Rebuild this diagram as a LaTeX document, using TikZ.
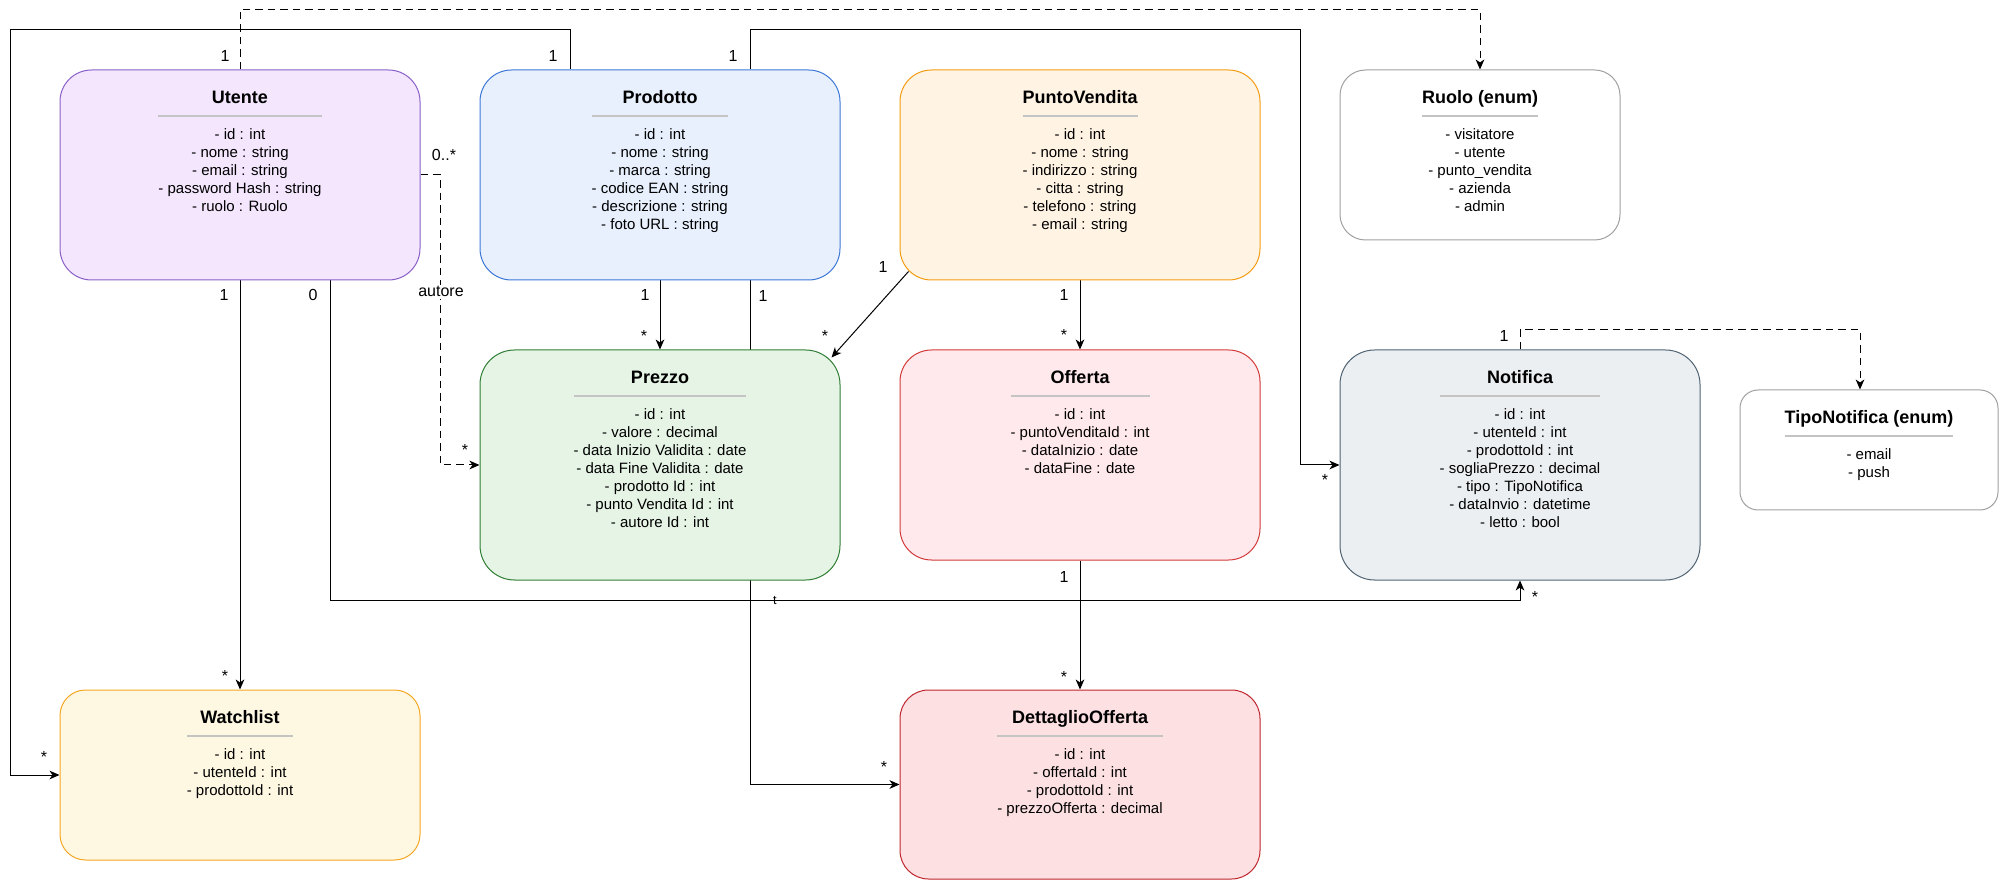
\documentclass[tikz,border=0pt]{standalone}
\usepackage{fontspec}
\setmainfont{Liberation Sans}
\usetikzlibrary{arrows.meta,calc}
\newdimen\pxu \pxu=0.75pt
\definecolor{sepgray}{HTML}{C4C4C4}
\definecolor{uFill}{HTML}{F3E6FD}\definecolor{uDraw}{HTML}{8A5FC8}
\definecolor{pFill}{HTML}{E8F0FD}\definecolor{pDraw}{HTML}{3C78D8}
\definecolor{vFill}{HTML}{FFF3E3}\definecolor{vDraw}{HTML}{F39C12}
\definecolor{eDraw}{HTML}{A0A0A0}
\definecolor{zFill}{HTML}{E6F4E6}\definecolor{zDraw}{HTML}{2E7D32}
\definecolor{oFill}{HTML}{FFE9EC}\definecolor{oDraw}{HTML}{D33A3A}
\definecolor{nFill}{HTML}{ECEFF2}\definecolor{nDraw}{HTML}{4F6272}
\definecolor{wFill}{HTML}{FEF7E1}\definecolor{wDraw}{HTML}{F5A623}
\definecolor{dFill}{HTML}{FCE0E2}\definecolor{dDraw}{HTML}{C0262D}
\newcommand\umlrow[1]{\vrule height13.5\pxu depth4.5\pxu width0pt #1\cr}
\newcommand\umlbody[2]{\vbox{\offinterlineskip\halign{\hfil##\hfil\cr
  \fontsize{13.5pt}{16pt}\selectfont\bfseries\vrule height20\pxu depth6\pxu width0pt #1\cr
  \vrule height8\pxu depth0pt width0pt{\color{sepgray}\leaders\hrule height1.9\pxu depth-0.2\pxu\hfill}\cr
  \noalign{\kern9\pxu}
  #2}}}
\pgfdeclarelayer{bg}
\pgfsetlayers{bg,main}
\tikzset{
  umlbox/.style={draw, line width=0.75pt, inner sep=0pt},
  boxtext/.style={anchor=north, inner sep=0pt, font=\fontsize{11.25pt}{13.5pt}\selectfont, text=black},
  lab/.style={anchor=base, inner sep=0pt, font=\fontsize{12pt}{14pt}\selectfont, text=black},
  conn/.style={draw=black, line width=0.75pt, -{Stealth[length=7.5pt,width=6.5pt,inset=2.2pt]}},
  dconn/.style={conn, dash pattern=on 5.6pt off 3.8pt}
}
\begin{document}
\begin{tikzpicture}[x=0.75pt,y=-0.75pt]
\useasboundingbox (0,0) rectangle (2000,880);
% boxes
\node[umlbox, fill=uFill, draw=uDraw, minimum width=360\pxu, minimum height=210\pxu, rounded corners=31.5\pxu] (utente) at (240,175) {};
\node[umlbox, fill=pFill, draw=pDraw, minimum width=360\pxu, minimum height=210\pxu, rounded corners=31.5\pxu] (prodotto) at (660,175) {};
\node[umlbox, fill=vFill, draw=vDraw, minimum width=360\pxu, minimum height=210\pxu, rounded corners=31.5\pxu] (pv) at (1080,175) {};
\node[umlbox, fill=white, draw=eDraw, minimum width=280\pxu, minimum height=170\pxu, rounded corners=25.5\pxu] (ruolo) at (1480,155) {};
\node[umlbox, fill=zFill, draw=zDraw, minimum width=360\pxu, minimum height=230\pxu, rounded corners=34.5\pxu] (prezzo) at (660,465) {};
\node[umlbox, fill=oFill, draw=oDraw, minimum width=360\pxu, minimum height=210\pxu, rounded corners=31.5\pxu] (offerta) at (1080,455) {};
\node[umlbox, fill=nFill, draw=nDraw, minimum width=360\pxu, minimum height=230\pxu, rounded corners=34.5\pxu] (notifica) at (1520,465) {};
\node[umlbox, fill=white, draw=eDraw, minimum width=258\pxu, minimum height=120\pxu, rounded corners=18\pxu] (tiponot) at (1869,450) {};
\node[umlbox, fill=wFill, draw=wDraw, minimum width=360\pxu, minimum height=170\pxu, rounded corners=25.5\pxu] (watchlist) at (240,775) {};
\node[umlbox, fill=dFill, draw=dDraw, minimum width=360\pxu, minimum height=189\pxu, rounded corners=28.5\pxu] (dettaglio) at (1080,784.5) {};
% texts
\node[boxtext] (utente-t) at ($(utente.north)+(0,13.5)$) {\umlbody{Utente}{\umlrow{- id : int}\umlrow{- nome : string}\umlrow{- email : string}\umlrow{- password Hash : string}\umlrow{- ruolo : Ruolo}}};
\node[boxtext] (prodotto-t) at ($(prodotto.north)+(0,13.5)$) {\umlbody{Prodotto}{\umlrow{- id : int}\umlrow{- nome : string}\umlrow{- marca : string}\umlrow{- codice EAN : string}\umlrow{- descrizione : string}\umlrow{- foto URL : string}}};
\node[boxtext] (pv-t) at ($(pv.north)+(0,13.5)$) {\umlbody{PuntoVendita}{\umlrow{- id : int}\umlrow{- nome : string}\umlrow{- indirizzo : string}\umlrow{- citta : string}\umlrow{- telefono : string}\umlrow{- email : string}}};
\node[boxtext] (ruolo-t) at ($(ruolo.north)+(0,13.5)$) {\umlbody{Ruolo (enum)}{\umlrow{- visitatore}\umlrow{- utente}\umlrow{- punto\_vendita}\umlrow{- azienda}\umlrow{- admin}}};
\node[boxtext] (prezzo-t) at ($(prezzo.north)+(0,13.5)$) {\umlbody{Prezzo}{\umlrow{- id : int}\umlrow{- valore : decimal}\umlrow{- data Inizio Validita : date}\umlrow{- data Fine Validita : date}\umlrow{- prodotto Id : int}\umlrow{- punto Vendita Id : int}\umlrow{- autore Id : int}}};
\node[boxtext] (offerta-t) at ($(offerta.north)+(0,13.5)$) {\umlbody{Offerta}{\umlrow{- id : int}\umlrow{- puntoVenditaId : int}\umlrow{- dataInizio : date}\umlrow{- dataFine : date}}};
\node[boxtext] (notifica-t) at ($(notifica.north)+(0,13.5)$) {\umlbody{Notifica}{\umlrow{- id : int}\umlrow{- utenteId : int}\umlrow{- prodottoId : int}\umlrow{- sogliaPrezzo : decimal}\umlrow{- tipo : TipoNotifica}\umlrow{- dataInvio : datetime}\umlrow{- letto : bool}}};
\node[boxtext] (tiponot-t) at ($(tiponot.north)+(0,13.5)$) {\umlbody{TipoNotifica (enum)}{\umlrow{- email}\umlrow{- push}}};
\node[boxtext] (watchlist-t) at ($(watchlist.north)+(0,13.5)$) {\umlbody{Watchlist}{\umlrow{- id : int}\umlrow{- utenteId : int}\umlrow{- prodottoId : int}}};
\node[boxtext] (dettaglio-t) at ($(dettaglio.north)+(0,13.5)$) {\umlbody{DettaglioOfferta}{\umlrow{- id : int}\umlrow{- offertaId : int}\umlrow{- prodottoId : int}\umlrow{- prezzoOfferta : decimal}}};
% connectors
\begin{pgfonlayer}{bg}
\draw[dconn] (utente.north) -- ++(0,-60) -| (ruolo.north);
\draw[conn] ($(prodotto.north)+(-90,0)$) -- ++(0,-40) -- ++(-560,0) |- (watchlist.west);
\draw[conn] ($(prodotto.north)+(90,0)$) -- ++(0,-40) -- ++(550,0) |- (notifica.west);
\draw[dconn] (utente.east) -- ++(20,0) |- (prezzo.west);
\draw[conn] (utente.south) -- (watchlist.north);
\draw[conn] ($(utente.south)+(90,0)$) -- ++(0,320) -| (notifica.south);
\draw[conn] (prodotto.south) -- (prezzo.north);
\draw[conn] ($(prodotto.south)+(90,0)$) |- (dettaglio.west);
\draw[conn] ($(pv.south west)+(9,-9)$) -- ($(prezzo.north east)+(-9,8)$);
\draw[conn] (pv.south) -- (offerta.north);
\draw[conn] (offerta.south) -- (dettaglio.north);
\draw[dconn] (notifica.north) -- ++(0,-20) -| ($(tiponot.north)+(-9,0)$);
\end{pgfonlayer}
% labels
\node[lab] (l1) at (225,62) {1};
\node[lab] (l2) at (553,62) {1};
\node[lab] (l3) at (733,62) {1};
\node[lab] (l4) at (444,161) {0..*};
\node[lab, fill=white, inner sep=1.5pt] (l5) at (441,297) {autore};
\node[lab] (l6) at (465,456) {*};
\node[lab] (l7) at (224,301) {1};
\node[lab] (l8) at (313,301) {0};
\node[lab] (l9) at (645,301) {1};
\node[lab] (l10) at (644,342) {*};
\node[lab] (l11) at (763,302) {1};
\node[lab] (l12) at (883,273) {1};
\node[lab] (l13) at (825,342) {*};
\node[lab] (l14) at (1064,301) {1};
\node[lab] (l15) at (1064,341) {*};
\node[lab] (l16) at (1504,342) {1};
\node[lab] (l17) at (1325,486) {*};
\node[lab] (l18) at (1064,582) {1};
\node[lab] (l19) at (1064,682) {*};
\node[lab] (l20) at (1535,602) {*};
\node[lab] (l21) at (225,681) {*};
\node[lab] (l22) at (44,762) {*};
\node[lab] (l23) at (884,772) {*};
\node[lab, font=\fontsize{9.5pt}{11pt}\selectfont] (l24) at (775,604) {t};
\end{tikzpicture}
\end{document}
